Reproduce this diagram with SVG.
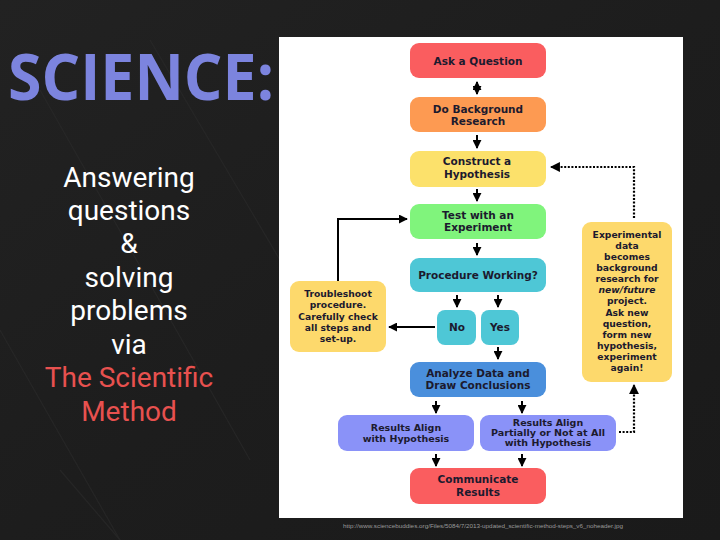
<svg xmlns="http://www.w3.org/2000/svg" width="720" height="540" viewBox="0 0 720 540">
<style>
.nt{font-family:"DejaVu Sans",Verdana,sans-serif;font-weight:bold;fill:#1c1a2e;text-anchor:middle}
.m{font-size:10.5px}
.s{font-size:9.5px}
.x{font-size:9.2px}
.side{font-family:Roboto,"Open Sans",sans-serif;font-size:28px;text-anchor:middle}
.ln{stroke:#000;stroke-width:2;fill:none}
.dt{stroke:#000;stroke-width:2.2;fill:none;stroke-dasharray:2 1.6}
</style>
<defs>
<marker id="ah" viewBox="0 0 10 10" refX="9" refY="5" markerWidth="4.5" markerHeight="4.5" orient="auto-start-reverse" markerUnits="strokeWidth">
<path d="M0,0 L10,5 L0,10 Z" fill="#000"/>
</marker>
<linearGradient id="bg" x1="0" y1="0" x2="1" y2="1">
<stop offset="0" stop-color="#222"/>
<stop offset="0.5" stop-color="#1d1d1d"/>
<stop offset="1" stop-color="#1a1a1a"/>
</linearGradient>
</defs>
<rect width="720" height="540" fill="url(#bg)"/>
<g stroke="#2a2a2a" stroke-width="1.2" opacity="0.7">
<line x1="0" y1="330" x2="120" y2="540"/>
<line x1="40" y1="90" x2="250" y2="460"/>
<line x1="150" y1="40" x2="280" y2="260"/>
<line x1="60" y1="470" x2="120" y2="540"/>
</g>
<g id="title">
<text x="8" y="100" font-family="Open Sans,Noto Sans,sans-serif" font-weight="bold" font-size="64" fill="#7c84de" textLength="266" lengthAdjust="spacingAndGlyphs">SCIENCE:</text>
</g>
<g id="subtitle" class="side">
<text x="129" y="187" fill="#ffffff">Answering</text>
<text x="129" y="220" fill="#ffffff">questions</text>
<text x="129" y="253" fill="#ffffff">&amp;</text>
<text x="129" y="287" fill="#ffffff">solving</text>
<text x="129" y="320" fill="#ffffff">problems</text>
<text x="129" y="354" fill="#ffffff">via</text>
<text x="129" y="387" fill="#e8514f">The Scientific</text>
<text x="129" y="421" fill="#e8514f">Method</text>
</g>
<rect x="279" y="37" width="404" height="481" fill="#ffffff"/>
<g id="connectors">
<line class="ln" x1="477" y1="82" x2="477" y2="94" marker-start="url(#ah)" marker-end="url(#ah)"/>
<line class="ln" x1="477" y1="135" x2="477" y2="148" marker-end="url(#ah)"/>
<line class="ln" x1="477" y1="189" x2="477" y2="201" marker-end="url(#ah)"/>
<line class="ln" x1="477" y1="243" x2="477" y2="255" marker-end="url(#ah)"/>
<line class="ln" x1="457" y1="295" x2="457" y2="307" marker-end="url(#ah)"/>
<line class="ln" x1="498" y1="295" x2="498" y2="307" marker-end="url(#ah)"/>
<line class="ln" x1="435" y1="327" x2="389" y2="327" marker-end="url(#ah)"/>
<polyline class="ln" points="338,281 338,219 407,219" marker-end="url(#ah)"/>
<line class="ln" x1="498" y1="347" x2="498" y2="359" marker-end="url(#ah)"/>
<line class="ln" x1="436" y1="401" x2="436" y2="413" marker-end="url(#ah)"/>
<line class="ln" x1="522" y1="401" x2="522" y2="413" marker-end="url(#ah)"/>
<line class="ln" x1="436" y1="454" x2="436" y2="466" marker-end="url(#ah)"/>
<line class="ln" x1="522" y1="454" x2="522" y2="466" marker-end="url(#ah)"/>
<polyline class="dt" points="634,218 634,167 551,167" marker-end="url(#ah)"/>
<polyline class="dt" points="619,432 634,432 634,385" marker-end="url(#ah)"/>
</g>
<g id="ask">
<rect x="410" y="43" width="136" height="35" rx="9" fill="#fa5d5f"/>
<text class="nt m" x="478" y="65">Ask a Question</text>
</g>
<g id="background">
<rect x="410" y="97" width="136" height="35" rx="9" fill="#fd9a52"/>
<text class="nt m" x="478" y="113">Do Background</text>
<text class="nt m" x="478" y="125">Research</text>
</g>
<g id="hypothesis">
<rect x="410" y="151" width="136" height="36" rx="9" fill="#fce16b"/>
<text class="nt m" x="477" y="165">Construct a</text>
<text class="nt m" x="477" y="178">Hypothesis</text>
</g>
<g id="test">
<rect x="410" y="204" width="136" height="35" rx="9" fill="#80f47c"/>
<text class="nt m" x="478" y="219">Test with an</text>
<text class="nt m" x="478" y="231">Experiment</text>
</g>
<g id="procedure">
<rect x="410" y="258" width="136" height="34" rx="9" fill="#4ec7d6"/>
<text class="nt m" x="478" y="279">Procedure Working?</text>
</g>
<g id="no">
<rect x="437" y="310" width="39" height="35" rx="8" fill="#4ec7d6"/>
<text class="nt m" x="457" y="331">No</text>
</g>
<g id="yes">
<rect x="481" y="310" width="38" height="35" rx="8" fill="#4ec7d6"/>
<text class="nt m" x="500" y="331">Yes</text>
</g>
<g id="troubleshoot">
<rect x="290" y="281" width="96" height="71" rx="9" fill="#fdd96c"/>
<text class="nt x" x="338" y="297">Troubleshoot</text>
<text class="nt x" x="338" y="308">procedure.</text>
<text class="nt x" x="338" y="320">Carefully check</text>
<text class="nt x" x="338" y="331">all steps and</text>
<text class="nt x" x="338" y="342">set-up.</text>
</g>
<g id="experimental">
<rect x="582" y="222" width="90" height="160" rx="9" fill="#fdd96c"/>
<text class="nt x" x="627" y="238">Experimental</text>
<text class="nt x" x="627" y="249">data</text>
<text class="nt x" x="627" y="260">becomes</text>
<text class="nt x" x="627" y="271">background</text>
<text class="nt x" x="627" y="282">research for</text>
<text class="nt x" x="627" y="293" font-style="italic">new/future</text>
<text class="nt x" x="627" y="304">project.</text>
<text class="nt x" x="627" y="316">Ask new</text>
<text class="nt x" x="627" y="327">question,</text>
<text class="nt x" x="627" y="338">form new</text>
<text class="nt x" x="627" y="349">hypothesis,</text>
<text class="nt x" x="627" y="360">experiment</text>
<text class="nt x" x="627" y="371">again!</text>
</g>
<g id="analyze">
<rect x="410" y="362" width="136" height="35" rx="9" fill="#4a8fdc"/>
<text class="nt m" x="478" y="377">Analyze Data and</text>
<text class="nt m" x="478" y="389">Draw Conclusions</text>
</g>
<g id="align">
<rect x="338" y="415" width="136" height="36" rx="9" fill="#8a92f8"/>
<text class="nt s" x="406" y="431">Results Align</text>
<text class="nt s" x="406" y="442">with Hypothesis</text>
</g>
<g id="partial">
<rect x="480" y="415" width="136" height="36" rx="9" fill="#8a92f8"/>
<text class="nt s" x="548" y="426">Results Align</text>
<text class="nt s" x="548" y="436" textLength="114" lengthAdjust="spacingAndGlyphs">Partially or Not at All</text>
<text class="nt s" x="548" y="446">with Hypothesis</text>
</g>
<g id="communicate">
<rect x="410" y="468" width="136" height="36" rx="9" fill="#fa5d5f"/>
<text class="nt m" x="478" y="483">Communicate</text>
<text class="nt m" x="478" y="496">Results</text>
</g>
<g id="source">
<text x="483" y="528" font-family="Liberation Sans,Arial,sans-serif" font-size="5.6" fill="#9a9a9a" text-anchor="middle" textLength="280" lengthAdjust="spacingAndGlyphs">http://www.sciencebuddies.org/Files/5084/7/2013-updated_scientific-method-steps_v6_noheader.jpg</text>
</g>
</svg>
